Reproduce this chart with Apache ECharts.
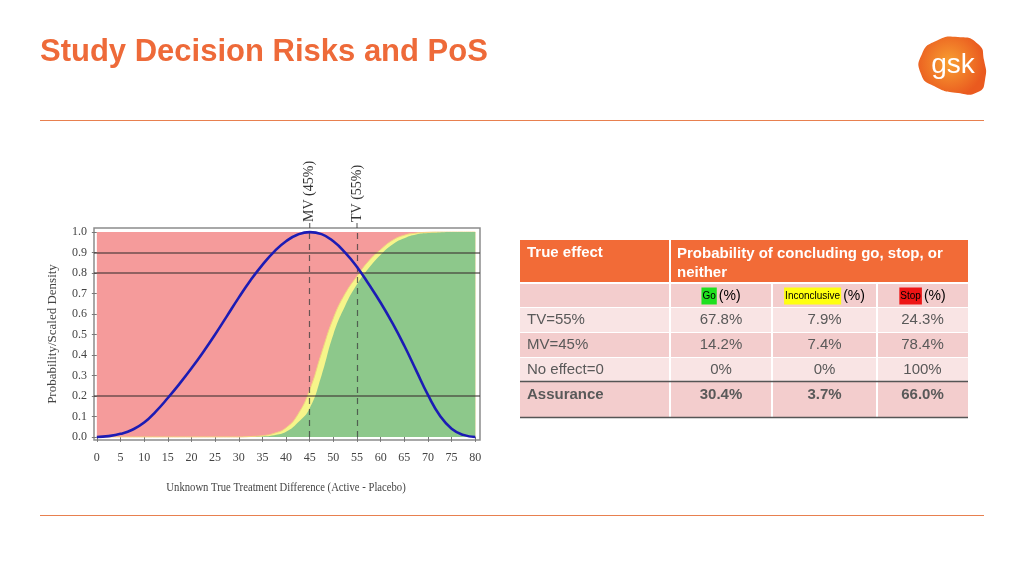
<!DOCTYPE html>
<html>
<head>
<meta charset="utf-8">
<script src="https://cdn.jsdelivr.net/npm/echarts@6/dist/echarts.min.js"></script>
<style>
html,body{margin:0;padding:0;background:#fff;}
#c{width:1024px;height:576px;}
</style>
</head>
<body>
<div id="c"></div>
<script>
// ---- chart data ----
const xValues = [0,2.5,5,7.5,10,12.5,15,17.5,20,22.5,25,27.5,30,32.5,35,37.5,40,42.5,45,47.5,50,52.5,55,57.5,60,62.5,65,67.5,70,72.5,75,77.5,80];
const scaledDensity = [0,0.004,0.015,0.035,0.07,0.125,0.19,0.26,0.335,0.415,0.5,0.59,0.68,0.765,0.84,0.905,0.955,0.988,1.0,0.99,0.955,0.9,0.83,0.745,0.655,0.555,0.445,0.325,0.205,0.105,0.04,0.01,0];
const probGo = [0,0,0,0,0,0,0,0,0,0,0,0,0,0,0.002,0.008,0.025,0.07,0.14,0.3,0.5,0.64,0.745,0.825,0.89,0.94,0.97,0.988,0.995,0.998,1,1,1];
const probGoOrInconclusive = [0,0,0,0,0,0,0,0,0,0,0,0,0,0.002,0.006,0.018,0.045,0.11,0.23,0.41,0.58,0.7,0.785,0.86,0.915,0.96,0.985,0.995,0.999,1,1,1,1];
const xTicks = [0,5,10,15,20,25,30,35,40,45,50,55,60,65,70,75,80];
const yTicks = [0,0.1,0.2,0.3,0.4,0.5,0.6,0.7,0.8,0.9,1.0];
const refLines = [0.2,0.8,0.9];
const decisionX = [45,55];
const decisionLabels = ['MV (45%)','TV (55%)'];
const xName = 'Unknown True Treatment Difference (Active - Placebo)';
const yName = 'Probability/Scaled Density';

// ---- table data ----
const tableHeader = ['True effect','Probability of concluding go, stop, or neither'];
const outcomeNames = ['Go','Inconclusive','Stop'];
const rowLabels = ['TV=55%','MV=45%','No effect=0','Assurance'];
const goPct = ['67.8%','14.2%','0%','30.4%'];
const inconclusivePct = ['7.9%','7.4%','0%','3.7%'];
const stopPct = ['24.3%','78.4%','100%','66.0%'];
const pageTitle = 'Study Decision Risks and PoS';

const pair = a => xValues.map((x,i)=>[x,a[i]]);
const SERIF = '"Liberation Serif", "DejaVu Serif", serif';
const SANS = '"Liberation Sans", Arial, sans-serif';

const chart = echarts.init(document.getElementById('c'), null, {renderer:'canvas'});

const option = {
  animation:false,
  grid:{left:94, top:228, width:386, height:212, show:true, borderColor:'#8c8c8c', borderWidth:1.5, backgroundColor:'transparent'},
  xAxis:{
    type:'value', min:-0.6, max:81,
    axisLine:{show:false},
    axisTick:{show:true, customValues:xTicks, length:5, lineStyle:{color:'#777'}},
    axisLabel:{show:true, customValues:xTicks, margin:12, fontFamily:SERIF, fontSize:12, color:'#444'},
    splitLine:{show:false}
  },
  yAxis:{
    type:'value', min:-0.015, max:1.02,
    name:yName, nameLocation:'middle', nameGap:35,
    nameTextStyle:{fontFamily:SERIF, fontSize:13, color:'#444'},
    axisLine:{show:false},
    axisTick:{show:true, customValues:yTicks, length:5, lineStyle:{color:'#777'}},
    axisLabel:{show:true, customValues:yTicks, margin:7, fontFamily:SERIF, fontSize:12, color:'#444',
      formatter:v=>Number(v).toFixed(1)},
    splitLine:{show:false}
  },
  series:[
    {name:'Stop', type:'line', z:1, data:pair(probGoOrInconclusive), symbol:'none', lineStyle:{width:0, opacity:0},
      markArea:{silent:true, itemStyle:{color:'#f59b9b'}, data:[[{coord:[xValues[0],0]},{coord:[xValues[xValues.length-1],1]}]]}},
    {name:'Inconclusive', type:'line', z:2, data:pair(probGoOrInconclusive), symbol:'none', smooth:0.5,
      lineStyle:{width:1, color:'#f2d080'}, areaStyle:{color:'#f6f58a', opacity:1}},
    {name:'Go', type:'line', z:3, data:pair(probGo), symbol:'none', smooth:0.5,
      lineStyle:{width:0}, areaStyle:{color:'#8dc88b', opacity:1},
      markLine:{silent:true, symbol:'none', label:{show:false},
        data: refLines.map(v=>({yAxis:v, lineStyle:{color:'rgba(60,50,50,0.55)', width:2, type:'solid'}}))
          .concat(decisionX.map(x=>[{coord:[x,0]},{coord:[x,1.02]}]).map(d=>{d[0].lineStyle={color:'rgba(60,60,60,0.75)', width:1.2, type:[6,5]}; return d;}))
      }},
    {name:'Density', type:'line', z:5, data:pair(scaledDensity), symbol:'none', smooth:0.5,
      lineStyle:{width:2.6, color:'#1c1cb4'}}
  ]
};
chart.setOption(option);

// ---- page graphics: title, rules, logo, labels, table ----
const g = [];
g.push({type:'text', x:40, y:52, style:{text:pageTitle, fill:'#ee6a39', font:'bold 31px '+SANS, textVerticalAlign:'middle'}});
g.push({type:'line', shape:{x1:40,y1:120.5,x2:984,y2:120.5}, style:{stroke:'#e8804f', lineWidth:1}});
g.push({type:'line', shape:{x1:40,y1:515.5,x2:984,y2:515.5}, style:{stroke:'#e8804f', lineWidth:1}});
// logo
g.push({type:'polygon', shape:{points:[[936,41],[958,37],[978,44],[984,60],[985,80],[978,92],[958,93],[934,86],[921,74],[922,54]], smooth:0.6},
  style:{fill:{type:'radial', x:0.45, y:0.45, r:0.6, colorStops:[{offset:0,color:'#f8a032'},{offset:1,color:'#ea5a1f'}]}}});
g.push({type:'text', x:953, y:65, style:{text:'gsk', fill:'#fff', font:'28px '+SANS, textAlign:'center', textVerticalAlign:'middle'}});

// decision labels above plot
decisionX.forEach((x,i)=>{
  const p = chart.convertToPixel({gridIndex:0},[x,1.02]);
  g.push({type:'text', x:p[0], y:p[1]-6, rotation:Math.PI/2,
    style:{text:decisionLabels[i], fill:'#333', font:'14px '+SERIF, textAlign:'left', textVerticalAlign:'middle'}});
  g.push({type:'line', shape:{x1:p[0],y1:p[1],x2:p[0],y2:p[1]-5}, style:{stroke:'rgba(60,60,60,0.75)', lineWidth:1.2}});
});
// x axis name (slightly condensed like the source image)
{
  const p = chart.convertToPixel({gridIndex:0},[40,0]);
  g.push({type:'text', x:p[0], y:488, scaleX:0.82,
    style:{text:xName, fill:'#444', font:'13px '+SERIF, textAlign:'center', textVerticalAlign:'middle'}});
}

// table
const colX = [520,670,772,877,968];
const HDR = '#f26b37', DARK='#f3cdcd', LIGHT='#f9e4e4', TXT='#595959';
g.push({type:'rect', shape:{x:colX[0],y:240,width:colX[1]-colX[0]-1,height:42}, style:{fill:HDR}});
g.push({type:'rect', shape:{x:colX[1]+1,y:240,width:colX[4]-colX[1]-1,height:42}, style:{fill:HDR}});
g.push({type:'text', x:527, y:253, style:{text:tableHeader[0], fill:'#fff', font:'bold 15px '+SANS, textVerticalAlign:'middle'}});
g.push({type:'text', x:677, y:244, style:{text:tableHeader[1], fill:'#fff', font:'bold 15px '+SANS, width:285, overflow:'break', lineHeight:19, textVerticalAlign:'top'}});

const rows = [
  {y:284, h:23, fill:DARK},
  {y:308, h:24, fill:LIGHT},
  {y:333, h:24, fill:DARK},
  {y:358, h:23, fill:LIGHT},
  {y:382, h:35, fill:DARK}
];
rows.forEach(r=>{
  for(let c=0;c<4;c++){
    g.push({type:'rect', shape:{x:colX[c]+(c?1:0), y:r.y, width:colX[c+1]-colX[c]-(c?1:0)-(c<3?1:0), height:r.h}, style:{fill:r.fill}});
  }
});
// sub header
const hl = [
  {bg:'#1fe01f', fg:'#226622'},
  {bg:'#ffff10', fg:'#444400'},
  {bg:'#ee1515', fg:'#c21414'}
];
outcomeNames.forEach((n,i)=>{
  const cx = (colX[i+1]+colX[i+2])/2;
  g.push({type:'text', x:cx, y:296, style:{
    text:'{a|'+n+'}{b|(%)}', textAlign:'center', textVerticalAlign:'middle',
    rich:{a:{backgroundColor:hl[i].bg, color:hl[i].fg, fontSize:10, fontFamily:SANS, padding:[4,1,3,1]},
          b:{color:TXT, fontSize:14, fontFamily:SANS, padding:[0,0,0,2]}}}});
});
const rowY = [320,345,370,395];
const valueCols = [goPct, inconclusivePct, stopPct];
rowLabels.forEach((lab,i)=>{
  const bold = i===rowLabels.length-1;
  const font = (bold?'bold ':'')+'15px '+SANS;
  g.push({type:'text', x:527, y:rowY[i], style:{text:lab, fill:TXT, font:font, textVerticalAlign:'middle'}});
  valueCols.forEach((col,j)=>{
    const cx=(colX[j+1]+colX[j+2])/2;
    g.push({type:'text', x:cx, y:rowY[i], style:{text:col[i], fill:TXT, font:font, textAlign:'center', textVerticalAlign:'middle'}});
  });
});
g.push({type:'line', shape:{x1:colX[0],y1:381.5,x2:colX[4],y2:381.5}, style:{stroke:'#555', lineWidth:1.5}});
g.push({type:'line', shape:{x1:colX[0],y1:417.5,x2:colX[4],y2:417.5}, style:{stroke:'#555', lineWidth:1.5}});

chart.setOption({graphic:g});
</script>
</body>
</html>
